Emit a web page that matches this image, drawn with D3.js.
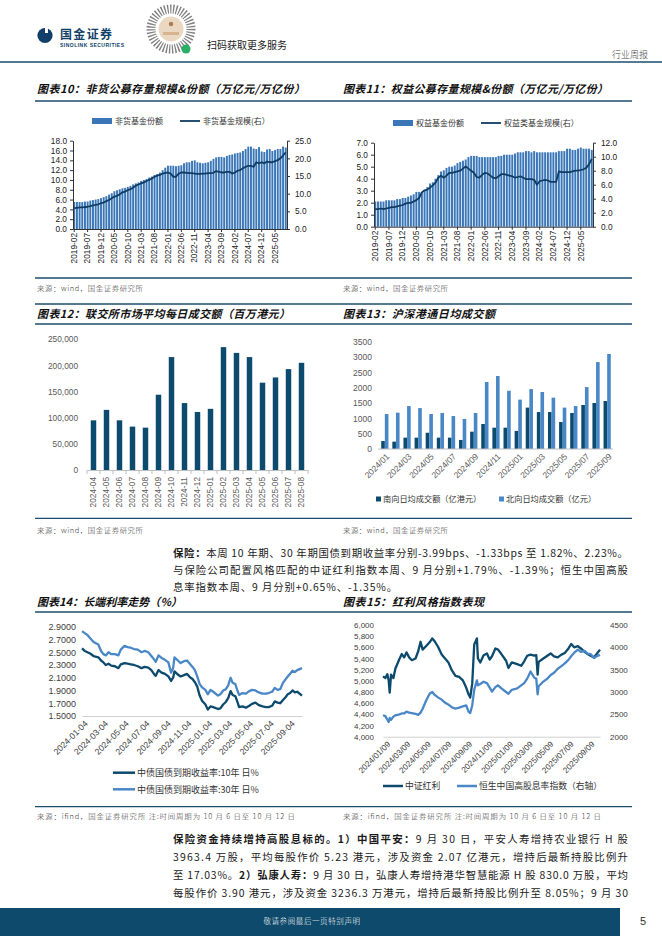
<!DOCTYPE html>
<html>
<head>
<meta charset="utf-8">
<script src="https://cdn.jsdelivr.net/npm/d3@7"></script>
<style>
  body { margin: 0; background: #fff; }
  svg { display: block; }
</style>
</head>
<body>
<svg id="page" width="662" height="936"></svg>
<script>
// ---------- data ----------
// 图表10 / 图表11 : monthly, 2019-02 .. 2025-09
const fundMonths = d3.timeMonth.range(new Date(2019, 1, 1), new Date(2025, 9, 1)).map(d3.timeFormat("%Y-%m"));
const nonMmfShares = [
  5.5, 5.5, 5.5, 5.5, 5.6, 5.6, 5.8, 5.9, 6.0, 6.1, 6.3,
  6.5, 6.7, 7.0, 7.3, 7.7, 7.9, 8.1, 8.3, 8.4, 8.6, 8.8, 9.1,
  9.3, 9.5, 9.8, 10.0, 10.2, 10.5, 10.7, 11.0, 11.2, 11.5, 12.0, 12.5,
  12.9, 12.9, 12.9, 12.8, 12.9, 13.0, 13.4, 13.6, 13.6, 13.9, 14.0, 13.6,
  13.5, 13.4, 13.5, 13.6, 13.9, 14.3, 14.6, 14.7, 14.7, 14.6, 14.9, 15.1,
  15.2, 15.4, 15.5, 15.6, 15.9, 16.3, 16.8, 16.8, 16.4, 16.3, 16.7, 15.8,
  15.7, 16.2, 16.3, 15.9, 16.1, 16.3, 16.3, 16.8, 16.6
];
const nonMmfAum = [
  5.9, 6.0, 6.1, 6.1, 6.2, 6.3, 6.5, 6.7, 6.8, 7.0, 7.3,
  7.5, 7.9, 8.2, 8.7, 9.2, 9.4, 9.8, 10.4, 10.6, 11.0, 11.3, 11.7,
  12.3, 12.6, 12.9, 13.2, 13.6, 13.9, 14.3, 14.8, 15.1, 15.3, 15.7, 15.9,
  16.0, 15.7, 14.8, 14.8, 15.7, 16.0, 16.0, 15.9, 15.8, 15.8, 15.7, 15.6,
  15.6, 15.7, 15.7, 15.8, 15.8, 15.9, 16.4, 16.2, 16.0, 16.0, 16.2, 16.2,
  15.7, 16.0, 16.5, 16.7, 17.2, 17.6, 17.9, 17.9, 17.6, 18.9, 18.6, 18.9,
  18.6, 19.1, 18.9, 18.9, 19.2, 19.5, 20.0, 20.8, 21.7
];
const equityShares = [
  2.1, 2.1, 2.1, 2.1, 2.2, 2.2, 2.2, 2.2, 2.3, 2.3, 2.4,
  2.4, 2.5, 2.6, 2.7, 2.9, 2.9, 2.9, 3.0, 3.3, 3.6, 3.7, 4.0,
  4.3, 4.6, 4.7, 4.9, 5.0, 5.0, 5.1, 5.3, 5.4, 5.5, 5.6, 5.8,
  5.9, 5.9, 5.9, 5.8, 5.8, 5.8, 5.8, 5.8, 5.8, 5.8, 5.9, 5.9,
  6.0, 6.0, 6.0, 6.0, 6.1, 6.2, 6.2, 6.2, 6.3, 6.3, 6.2, 6.3,
  6.2, 6.2, 6.2, 6.2, 6.2, 6.2, 6.2, 6.2, 6.3, 6.3, 6.3, 6.5,
  6.5, 6.4, 6.4, 6.5, 6.6, 6.5, 6.5, 6.5, 6.4
];
const equityAum = [
  2.5, 2.5, 2.6, 2.5, 2.6, 2.7, 2.8, 2.8, 2.9, 3.0, 3.1,
  3.3, 3.4, 3.4, 3.6, 3.8, 4.1, 4.9, 5.2, 5.3, 5.6, 5.9, 6.3,
  7.0, 7.3, 7.0, 7.3, 7.7, 7.7, 7.8, 7.9, 8.0, 8.3, 8.6, 8.3,
  8.0, 7.7, 7.1, 7.0, 7.4, 7.7, 7.6, 7.3, 7.0, 6.9, 7.2, 7.5,
  7.5, 7.4, 7.3, 7.2, 7.0, 7.1, 7.2, 7.0, 6.8, 6.8, 6.8, 6.7,
  6.0, 6.5, 6.6, 6.7, 6.6, 6.4, 6.4, 6.4, 7.9, 7.8, 7.8, 7.8,
  7.8, 7.9, 8.0, 8.0, 8.1, 8.2, 8.4, 8.9, 9.7
];

// 图表12
const hkexMonths = ["2024-04", "2024-05", "2024-06", "2024-07", "2024-08", "2024-09", "2024-10", "2024-11", "2024-12",
  "2025-01", "2025-02", "2025-03", "2025-04", "2025-05", "2025-06", "2025-07", "2025-08"];
const hkexTurnover = [95000, 115000, 95000, 83000, 81000, 144000, 216000, 128000, 111000,
  117000, 235000, 224000, 216000, 167000, 177000, 193000, 205000];

// 图表13
const connectMonths = ["2024/01", "2024/02", "2024/03", "2024/04", "2024/05", "2024/06", "2024/07", "2024/08", "2024/09",
  "2024/10", "2024/11", "2024/12", "2025/01", "2025/02", "2025/03", "2025/04", "2025/05", "2025/06", "2025/07", "2025/08", "2025/09"];
const southbound = [260, 240, 370, 370, 530, 370, 370, 295, 565, 815, 695, 695, 590, 1350, 1205, 1205, 880, 1175, 1435, 1500, 1565];
const northbound = [1140, 1185, 1400, 1335, 1140, 1175, 1075, 980, 1175, 2185, 2380, 1900, 1610, 1955, 1860, 1675, 1350, 1400, 2020, 2835, 3100];

// 图表14
const rateDates = ["2024-01-02", "2024-01-10", "2024-01-18", "2024-01-26", "2024-02-05", "2024-02-19", "2024-02-27", "2024-03-05",
  "2024-03-12", "2024-03-20", "2024-03-28", "2024-04-08", "2024-04-18", "2024-04-25", "2024-05-06", "2024-05-15", "2024-05-24",
  "2024-06-03", "2024-06-14", "2024-06-25", "2024-07-04", "2024-07-15", "2024-07-24", "2024-08-02", "2024-08-06", "2024-08-14",
  "2024-08-23", "2024-09-02", "2024-09-12", "2024-09-20", "2024-09-26", "2024-09-30", "2024-10-10", "2024-10-18", "2024-10-28",
  "2024-11-06", "2024-11-14", "2024-11-22", "2024-11-29", "2024-12-06", "2024-12-13", "2024-12-20", "2024-12-30", "2025-01-06",
  "2025-01-14", "2025-01-22", "2025-02-05", "2025-02-12", "2025-02-20", "2025-02-28", "2025-03-07", "2025-03-14", "2025-03-20",
  "2025-03-28", "2025-04-03", "2025-04-08", "2025-04-18", "2025-04-28", "2025-05-08", "2025-05-16", "2025-05-26", "2025-06-05",
  "2025-06-16", "2025-06-26", "2025-07-04", "2025-07-14", "2025-07-22", "2025-07-30", "2025-08-07", "2025-08-15", "2025-08-22",
  "2025-08-29", "2025-09-05", "2025-09-12", "2025-09-19", "2025-09-26", "2025-10-10"];
const cgb10y = [2.56, 2.52, 2.50, 2.48, 2.44, 2.42, 2.37, 2.34, 2.30, 2.32, 2.29, 2.28, 2.25, 2.31, 2.33, 2.32, 2.31,
  2.30, 2.28, 2.25, 2.27, 2.26, 2.22, 2.15, 2.13, 2.22, 2.18, 2.16, 2.12, 2.05, 2.10, 2.20, 2.15, 2.12, 2.14,
  2.16, 2.11, 2.08, 2.03, 1.96, 1.82, 1.74, 1.68, 1.60, 1.65, 1.64, 1.61, 1.62, 1.68, 1.72, 1.78, 1.89, 1.83,
  1.81, 1.72, 1.64, 1.65, 1.63, 1.66, 1.69, 1.71, 1.67, 1.65, 1.64, 1.64, 1.66, 1.73, 1.71, 1.70, 1.75, 1.79,
  1.84, 1.86, 1.90, 1.87, 1.88, 1.82];
const cgb30y = [2.83, 2.80, 2.77, 2.72, 2.66, 2.62, 2.52, 2.47, 2.45, 2.50, 2.47, 2.47, 2.45, 2.54, 2.60, 2.58, 2.57,
  2.55, 2.54, 2.50, 2.52, 2.50, 2.44, 2.38, 2.35, 2.45, 2.41, 2.38, 2.34, 2.18, 2.25, 2.42, 2.37, 2.33, 2.36,
  2.37, 2.32, 2.27, 2.22, 2.12, 2.00, 1.95, 1.91, 1.84, 1.91, 1.88, 1.82, 1.84, 1.90, 1.92, 1.98, 2.10, 2.02,
  2.00, 1.90, 1.83, 1.86, 1.85, 1.89, 1.91, 1.90, 1.87, 1.85, 1.85, 1.86, 1.88, 1.94, 1.91, 1.92, 2.02, 2.07,
  2.12, 2.16, 2.21, 2.19, 2.22, 2.25];
const rateTicks = ["2024-01-04", "2024-03-04", "2024-05-04", "2024-07-04", "2024-09-04", "2024-11-04",
  "2025-01-04", "2025-03-04", "2025-05-04", "2025-07-04", "2025-09-04"];

// 图表15
const divDates = ["2024-01-02", "2024-01-09", "2024-01-15", "2024-01-19", "2024-01-22", "2024-01-26", "2024-02-02", "2024-02-08",
  "2024-02-20", "2024-02-27", "2024-03-05", "2024-03-12", "2024-03-20", "2024-03-28", "2024-04-08", "2024-04-16", "2024-04-23",
  "2024-04-29", "2024-05-09", "2024-05-20", "2024-05-28", "2024-06-05", "2024-06-14", "2024-06-25", "2024-07-05", "2024-07-15",
  "2024-07-25", "2024-08-05", "2024-08-16", "2024-08-27", "2024-09-06", "2024-09-13", "2024-09-18", "2024-09-24", "2024-09-30",
  "2024-10-08", "2024-10-11", "2024-10-18", "2024-10-28", "2024-11-07", "2024-11-15", "2024-11-22", "2024-12-02", "2024-12-10",
  "2024-12-20", "2025-01-03", "2025-01-10", "2025-01-20", "2025-02-05", "2025-02-17", "2025-02-26", "2025-03-07", "2025-03-17",
  "2025-03-28", "2025-04-03", "2025-04-07", "2025-04-10", "2025-04-22", "2025-05-06", "2025-05-16", "2025-05-26", "2025-06-06",
  "2025-06-17", "2025-06-27", "2025-07-08", "2025-07-16", "2025-07-25", "2025-08-05", "2025-08-14", "2025-08-25", "2025-09-03",
  "2025-09-12", "2025-09-22", "2025-09-30", "2025-10-10"];
const csiDividend = [5080, 5050, 5120, 5000, 4790, 5110, 5050, 5220, 5390, 5480,
  5420, 5510, 5420, 5370, 5400, 5530, 5700, 5560, 5620, 5690,
  5760, 5700, 5610, 5470, 5400, 5330, 5190, 5090, 5070, 5010,
  4880, 4760, 4700, 4950, 5650, 5760, 5400, 5330, 5460, 5490,
  5380, 5440, 5580, 5560, 5480, 5360, 5230, 5330, 5300, 5270,
  5350, 5450, 5470, 5450, 5460, 5110, 5340, 5390, 5450, 5490,
  5440, 5420, 5470, 5500, 5580, 5660, 5600, 5620, 5580, 5520,
  5480, 5450, 5420, 5480, 5560];
const hsHighDiv = [2480, 2460, 2380, 2330, 2420, 2380, 2450, 2480, 2500, 2520,
  2520, 2560, 2540, 2530, 2510, 2490, 2540, 2620, 2800, 2960,
  3000, 2930, 2880, 2830, 2760, 2720, 2660, 2630, 2650, 2680,
  2700, 2560, 2530, 2700, 3050, 3260, 3150, 3180, 3230, 3200,
  3100, 3010, 3110, 3150, 3080, 3000, 2960, 3050, 3080, 3150,
  3200, 3300, 3460, 3320, 3300, 2950, 3130, 3220, 3300, 3380,
  3430, 3520, 3580, 3640, 3720, 3800, 3880, 3950, 3900, 3920,
  3860, 3850, 3760, 3800, 3830];
const divTicks = ["2024/01/09", "2024/03/09", "2024/05/09", "2024/07/09", "2024/09/09", "2024/11/09",
  "2025/01/09", "2025/03/09", "2025/05/09", "2025/07/09", "2025/09/09"];

// ---------- setup ----------
const svg = d3.select("#page");
const CN = "'Noto Sans CJK SC', sans-serif";
const NUM = "'Liberation Sans', Arial, sans-serif";
const rule = "#1d4d6b";
const barBlue = "#3b77b8", navy = "#0f3c62", deep = "#0c4a6e", sky = "#4a87c6";
const parseDay = d3.timeParse("%Y-%m-%d");
const parseSlash = d3.timeParse("%Y/%m/%d");

svg.append("rect").attr("width", 662).attr("height", 936).attr("fill", "#fff");

function hline(y, x1 = 35, x2 = 632, w = 1.3) {
  svg.append("line").attr("x1", x1).attr("x2", x2).attr("y1", y).attr("y2", y)
    .attr("stroke", rule).attr("stroke-width", w);
}
function title(x, y, str, len) {
  svg.append("text").attr("x", x).attr("y", y).attr("font-family", CN).attr("font-size", 11)
    .attr("font-weight", 700).attr("font-style", "italic").attr("fill", "#111")
    .attr("textLength", len).attr("lengthAdjust", "spacing").text(str);
}
function source(x, y, str, len) {
  svg.append("text").attr("x", x).attr("y", y).attr("font-family", CN).attr("font-size", 7.4)
    .attr("font-weight", 300).attr("fill", "#333")
    .attr("textLength", len).attr("lengthAdjust", "spacing").text(str);
}
function styleAxis(g, size, color, lineColor) {
  g.attr("font-family", NUM).attr("font-size", size);
  g.selectAll("text").attr("fill", color);
  g.selectAll("line,path").attr("stroke", lineColor);
}
function legendText(x, y, str, size) {
  svg.append("text").attr("x", x).attr("y", y).attr("font-family", CN).attr("font-size", size)
    .attr("fill", "#333").text(str);
}

// ---------- header ----------
const logo = svg.append("g");
logo.append("circle").attr("cx", 45).attr("cy", 35.5).attr("r", 7.6).attr("fill", "#123f6a");
logo.append("rect").attr("x", 45).attr("y", 27).attr("width", 3).attr("height", 6).attr("fill", "#fff");
logo.append("text").attr("x", 60).attr("y", 38.5).attr("font-family", CN).attr("font-weight", 700)
  .attr("font-size", 12).attr("fill", "#123f6a").attr("textLength", 52).text("国金证券");
logo.append("text").attr("x", 60).attr("y", 47).attr("font-family", NUM).attr("font-weight", 700)
  .attr("font-size", 5).attr("fill", "#123f6a").attr("textLength", 64).text("SINOLINK SECURITIES");

const qr = svg.append("g");
qr.append("circle").attr("cx", 171).attr("cy", 29).attr("r", 20).attr("fill", "none")
  .attr("stroke", "#555").attr("stroke-width", 9).attr("stroke-dasharray", "1.3 1.6").attr("opacity", 0.75);
qr.append("circle").attr("cx", 171).attr("cy", 29).attr("r", 12.5).attr("fill", "#ead8c2");
qr.append("circle").attr("cx", 171).attr("cy", 24).attr("r", 2.2).attr("fill", "#b07a4a");
qr.append("rect").attr("x", 163).attr("y", 32).attr("width", 16).attr("height", 3).attr("fill", "#d7b48e");
qr.append("circle").attr("cx", 186).attr("cy", 49).attr("r", 4.5).attr("fill", "#2bae66");
svg.append("text").attr("x", 207).attr("y", 49).attr("font-family", CN).attr("font-size", 10)
  .attr("fill", "#222").text("扫码获取更多服务");
svg.append("text").attr("x", 648).attr("y", 58).attr("text-anchor", "end").attr("font-family", CN)
  .attr("font-size", 9).attr("font-weight", 300).attr("fill", "#444").text("行业周报");
hline(62, 0, 662, 1.6);

// ---------- section rules / titles / sources ----------
const srcWind = "来源：wind，国金证券研究所";
const srcIfind = "来源：ifind，国金证券研究所 注:时间周期为 10 月 6 日至 10 月 12 日";
title(37, 93, "图表10：非货公募存量规模&份额（万亿元/万亿份）", 268);
title(343, 93, "图表11：权益公募存量规模&份额（万亿元/万亿份）", 265);
hline(101);
hline(278);
source(37, 290.5, srcWind, 106);
source(343, 290.5, srcWind, 105);
hline(304);
title(37, 318, "图表12：联交所市场平均每日成交额（百万港元）", 253);
title(343, 318, "图表13：沪深港通日均成交额", 152);
hline(324);
hline(518.3);
source(37, 533, srcWind, 106);
source(343, 533, srcWind, 105);
title(37, 606, "图表14：长端利率走势（%）", 145);
title(343, 606, "图表15：红利风格指数表现", 141);
hline(612);
hline(806.7);
source(37, 818.5, srcIfind, 258);
source(343, 818.5, srcIfind, 258);

// ---------- 图表10 / 11 combo charts ----------
function comboChart(o) {
  const x = d3.scaleBand().domain(fundMonths).range([o.left, o.right]).paddingInner(0.28).paddingOuter(0.1);
  const yL = d3.scaleLinear().domain([0, o.maxL]).range([o.bottom, o.top]);
  const yR = d3.scaleLinear().domain([0, o.maxR]).range([o.bottom, o.top]);
  const g = svg.append("g");
  g.selectAll("rect").data(o.bars).join("rect")
    .attr("x", (d, i) => x(fundMonths[i])).attr("y", d => yL(d))
    .attr("width", x.bandwidth()).attr("height", d => yL(0) - yL(d)).attr("fill", barBlue);
  const line = d3.line().x((d, i) => x(fundMonths[i]) + x.bandwidth() / 2).y(d => yR(d));
  g.append("path").datum(o.line).attr("d", line).attr("fill", "none")
    .attr("stroke", navy).attr("stroke-width", 1.8).attr("stroke-linejoin", "round");

  const ax = svg.append("g").attr("transform", `translate(${o.left},0)`)
    .call(d3.axisLeft(yL).tickValues(d3.range(0, o.maxL + 0.01, o.stepL)).tickFormat(d3.format(".1f")).tickSize(3).tickPadding(3).tickSizeOuter(0));
  styleAxis(ax, 8.3, "#222", "#333");
  const ar = svg.append("g").attr("transform", `translate(${o.right},0)`)
    .call(d3.axisRight(yR).tickValues(d3.range(0, o.maxR + 0.01, o.stepR)).tickFormat(d3.format(".1f")).tickSize(3).tickPadding(5).tickSizeOuter(0));
  styleAxis(ar, 8.3, "#222", "#333");
  const ab = svg.append("g").attr("transform", `translate(0,${o.bottom})`)
    .call(d3.axisBottom(x).tickValues(fundMonths.filter((d, i) => i % 5 === 0)).tickSize(3).tickSizeOuter(0));
  styleAxis(ab, 8.3, "#222", "#333");
  ab.selectAll(".tick text").attr("transform", "rotate(-90)").attr("text-anchor", "end")
    .attr("x", -4).attr("y", 0).attr("dy", "0.33em");

  // legend
  svg.append("rect").attr("x", o.legX).attr("y", o.legY - 3).attr("width", 20).attr("height", 6).attr("fill", barBlue);
  legendText(o.legX + 23, o.legY + 3, o.barName, 8);
  svg.append("line").attr("x1", o.legX + 88).attr("x2", o.legX + 108).attr("y1", o.legY).attr("y2", o.legY)
    .attr("stroke", navy).attr("stroke-width", 1.8);
  legendText(o.legX + 111, o.legY + 3, o.lineName, 8);
}
comboChart({ left: 73, right: 287, top: 140.7, bottom: 229, maxL: 18, stepL: 2, maxR: 25, stepR: 5,
  bars: nonMmfShares, line: nonMmfAum, legX: 92, legY: 121, barName: "非货基金份额", lineName: "非货基金规模(右）" });
comboChart({ left: 374, right: 593, top: 142.7, bottom: 226.7, maxL: 7, stepL: 1, maxR: 12, stepR: 2,
  bars: equityShares, line: equityAum, legX: 393, legY: 123, barName: "权益基金份额", lineName: "权益类基金规模(右）" });

// ---------- 图表12 ----------
{
  const x = d3.scaleBand().domain(hkexMonths).range([87, 308]).paddingInner(0.58).paddingOuter(0.29);
  const y = d3.scaleLinear().domain([0, 250000]).range([470, 339.3]);
  svg.append("g").selectAll("rect").data(hkexTurnover).join("rect")
    .attr("x", (d, i) => x(hkexMonths[i])).attr("y", d => y(d))
    .attr("width", x.bandwidth()).attr("height", d => y(0) - y(d)).attr("fill", deep);
  const ay = svg.append("g").attr("transform", "translate(82,0)")
    .call(d3.axisLeft(y).tickValues(d3.range(0, 250001, 50000)).tickFormat(d3.format(",")).tickSize(0).tickPadding(4));
  ay.select(".domain").remove();
  styleAxis(ay, 8.3, "#595959", "none");
  const ax = svg.append("g").attr("transform", "translate(0,470)")
    .call(d3.axisBottom(x).tickSize(0).tickSizeOuter(0));
  styleAxis(ax, 8.3, "#595959", "#bfbfbf");
  ax.selectAll(".tick text").attr("transform", "rotate(-90)").attr("text-anchor", "end")
    .attr("x", -7).attr("y", 0).attr("dy", "0.33em");
  const half = x.step() * x.paddingInner() / 2;
  const bounds = hkexMonths.map(d => x(d) - half).concat([x(hkexMonths[hkexMonths.length - 1]) + x.bandwidth() + half]);
  svg.append("g").selectAll("line").data(bounds).join("line")
    .attr("x1", d => d).attr("x2", d => d).attr("y1", 470).attr("y2", 474).attr("stroke", "#bfbfbf");
}

// ---------- 图表13 ----------
{
  const x = d3.scaleBand().domain(connectMonths).range([379, 613]).paddingInner(0.35).paddingOuter(0.2);
  const sub = d3.scaleBand().domain(["south", "north"]).range([0, x.bandwidth()]);
  const y = d3.scaleLinear().domain([0, 3500]).range([449, 341.7]);
  const g = svg.append("g");
  g.selectAll("rect.s").data(southbound).join("rect").attr("class", "s")
    .attr("x", (d, i) => x(connectMonths[i]) + sub("south")).attr("y", d => y(d))
    .attr("width", sub.bandwidth()).attr("height", d => y(0) - y(d)).attr("fill", deep);
  g.selectAll("rect.n").data(northbound).join("rect").attr("class", "n")
    .attr("x", (d, i) => x(connectMonths[i]) + sub("north")).attr("y", d => y(d))
    .attr("width", sub.bandwidth()).attr("height", d => y(0) - y(d)).attr("fill", sky);
  const ay = svg.append("g").attr("transform", "translate(376,0)")
    .call(d3.axisLeft(y).tickValues(d3.range(0, 3501, 500)).tickFormat(d3.format("d")).tickSize(0).tickPadding(4));
  ay.select(".domain").remove();
  styleAxis(ay, 8.5, "#595959", "none");
  const ax = svg.append("g").attr("transform", "translate(0,449)")
    .call(d3.axisBottom(x).tickValues(connectMonths.filter((d, i) => i % 2 === 0)).tickSize(0).tickSizeOuter(0));
  styleAxis(ax, 8.5, "#595959", "#bfbfbf");
  ax.select(".domain").attr("d", "M378,0H613");
  ax.selectAll(".tick text").attr("text-anchor", "end").attr("x", 0).attr("y", 0).attr("dy", "0.35em")
    .attr("transform", "translate(3,6) rotate(-45)");
  svg.append("rect").attr("x", 376).attr("y", 496.5).attr("width", 5).attr("height", 5).attr("fill", deep);
  legendText(383, 502, "南向日均成交额（亿港元）", 8.2);
  svg.append("rect").attr("x", 499).attr("y", 496.5).attr("width", 5).attr("height", 5).attr("fill", sky);
  legendText(506, 502, "北向日均成交额（亿元）", 8.2);
}

// ---------- paragraph 1 ----------
function para(x, y, parts, len, spacing) {
  const t = svg.append("text").attr("x", x).attr("y", y).attr("font-family", CN)
    .attr("font-size", 10.4).attr("fill", "#1a1a1a");
  parts.forEach(p => t.append("tspan").attr("font-weight", p.b ? 700 : 400).text(p.t));
  if (len) t.attr("textLength", len).attr("lengthAdjust", "spacing");
  if (spacing) t.attr("letter-spacing", spacing);
}
para(173, 557, [{ b: 1, t: "保险：" }, { t: "本周 10 年期、30 年期国债到期收益率分别-3.99bps、-1.33bps 至 1.82%、2.23%。" }], 455);
para(173, 574, [{ t: "与保险公司配置风格匹配的中证红利指数本周、9 月分别+1.79%、-1.39%；恒生中国高股" }], 455);
para(173, 591, [{ t: "息率指数本周、9 月分别+0.65%、-1.35%。" }], null, 0.9);

// ---------- 图表14 ----------
{
  const x = d3.scaleTime().domain([parseDay("2024-01-02"), parseDay("2025-10-10")]).range([82, 302]);
  const y = d3.scaleLinear().domain([1.5, 2.9]).range([716, 626.7]);
  const ay = svg.append("g").attr("transform", "translate(80,0)")
    .call(d3.axisLeft(y).tickValues(d3.range(1.5, 2.91, 0.2)).tickFormat(d3.format(".4f")).tickSize(0).tickPadding(4));
  ay.select(".domain").remove();
  styleAxis(ay, 9, "#404040", "none");
  const ax = svg.append("g").attr("transform", "translate(0,716)")
    .call(d3.axisBottom(x).tickValues(rateTicks.map(parseDay)).tickFormat(d3.timeFormat("%Y-%m-%d")).tickSize(0).tickSizeOuter(0));
  styleAxis(ax, 8.6, "#404040", "#d0d0d0");
  ax.selectAll(".tick text").attr("text-anchor", "end").attr("x", 0).attr("y", 0).attr("dy", "0.35em")
    .attr("transform", "translate(3,6) rotate(-45)");
  const line = v => d3.line().x((d, i) => x(parseDay(rateDates[i]))).y(d => y(d))(v);
  svg.append("path").attr("d", line(cgb10y)).attr("fill", "none").attr("stroke", deep).attr("stroke-width", 2.3).attr("stroke-linejoin", "round");
  svg.append("path").attr("d", line(cgb30y)).attr("fill", "none").attr("stroke", sky).attr("stroke-width", 2.3).attr("stroke-linejoin", "round");
  svg.append("line").attr("x1", 113).attr("x2", 135).attr("y1", 772.7).attr("y2", 772.7).attr("stroke", deep).attr("stroke-width", 2.5);
  legendText(137, 776, "中债国债到期收益率:10年 日%", 9);
  svg.append("line").attr("x1", 113).attr("x2", 135).attr("y1", 789.3).attr("y2", 789.3).attr("stroke", sky).attr("stroke-width", 2.5);
  legendText(137, 792.6, "中债国债到期收益率:30年 日%", 9);
}

// ---------- 图表15 ----------
{
  const x = d3.scaleTime().domain([parseDay("2024-01-02"), parseDay("2025-10-10")]).range([383, 600]);
  const yL = d3.scaleLinear().domain([4000, 6000]).range([736.7, 625]);
  const yR = d3.scaleLinear().domain([2000, 4500]).range([736.7, 625]);
  const al = svg.append("g").attr("transform", "translate(378,0)")
    .call(d3.axisLeft(yL).tickValues(d3.range(4000, 6001, 200)).tickFormat(d3.format(",")).tickSize(0).tickPadding(4));
  al.select(".domain").remove();
  styleAxis(al, 8, "#404040", "none");
  const ar = svg.append("g").attr("transform", "translate(606,0)")
    .call(d3.axisRight(yR).tickValues(d3.range(2000, 4501, 500)).tickFormat(d3.format("d")).tickSize(0).tickPadding(4));
  ar.select(".domain").remove();
  styleAxis(ar, 8, "#404040", "none");
  const ax = svg.append("g").attr("transform", "translate(0,736.7)")
    .call(d3.axisBottom(x).tickValues(divTicks.map(parseSlash)).tickFormat(d3.timeFormat("%Y/%m/%d")).tickSize(0).tickSizeOuter(0));
  styleAxis(ax, 8.2, "#404040", "#d0d0d0");
  ax.selectAll(".tick text").attr("text-anchor", "end").attr("x", 0).attr("y", 0).attr("dy", "0.35em")
    .attr("transform", "translate(3,6) rotate(-45)");
  svg.append("path").datum(csiDividend)
    .attr("d", d3.line().x((d, i) => x(parseDay(divDates[i]))).y(d => yL(d)))
    .attr("fill", "none").attr("stroke", deep).attr("stroke-width", 2.3).attr("stroke-linejoin", "round");
  svg.append("path").datum(hsHighDiv)
    .attr("d", d3.line().x((d, i) => x(parseDay(divDates[i]))).y(d => yR(d)))
    .attr("fill", "none").attr("stroke", sky).attr("stroke-width", 2.3).attr("stroke-linejoin", "round");
  svg.append("line").attr("x1", 383).attr("x2", 403).attr("y1", 786).attr("y2", 786).attr("stroke", deep).attr("stroke-width", 2.5);
  legendText(405, 789, "中证红利", 8.8);
  svg.append("line").attr("x1", 457).attr("x2", 477).attr("y1", 786).attr("y2", 786).attr("stroke", sky).attr("stroke-width", 2.5);
  legendText(479, 789, "恒生中国高股息率指数（右轴）", 8.8);
}

// ---------- paragraph 2 ----------
para(173, 843, [{ b: 1, t: "保险资金持续增持高股息标的。1）中国平安：" }, { t: "9 月 30 日，平安人寿增持农业银行 H 股" }], 455);
para(173, 861, [{ t: "3963.4 万股，平均每股作价 5.23 港元，涉及资金 2.07 亿港元，增持后最新持股比例升" }], 455);
para(173, 879, [{ t: "至 17.03%。" }, { b: 1, t: "2）弘康人寿：" }, { t: "9 月 30 日，弘康人寿增持港华智慧能源 H 股 830.0 万股，平均" }], 455);
para(173, 897, [{ t: "每股作价 3.90 港元，涉及资金 3236.3 万港元，增持后最新持股比例升至 8.05%；9 月 30" }], 455);

// ---------- footer ----------
svg.append("rect").attr("x", 0).attr("y", 908).attr("width", 620).attr("height", 28).attr("fill", "#0e4a6c");
svg.append("text").attr("x", 312).attr("y", 924).attr("text-anchor", "middle").attr("font-family", CN)
  .attr("font-size", 7.5).attr("font-weight", 300).attr("fill", "#fff").attr("letter-spacing", 0.6).text("敬请参阅最后一页特别声明");
svg.append("text").attr("x", 643).attr("y", 925).attr("text-anchor", "middle").attr("font-family", NUM)
  .attr("font-size", 11).attr("fill", "#333").text("5");
</script>
</body>
</html>
